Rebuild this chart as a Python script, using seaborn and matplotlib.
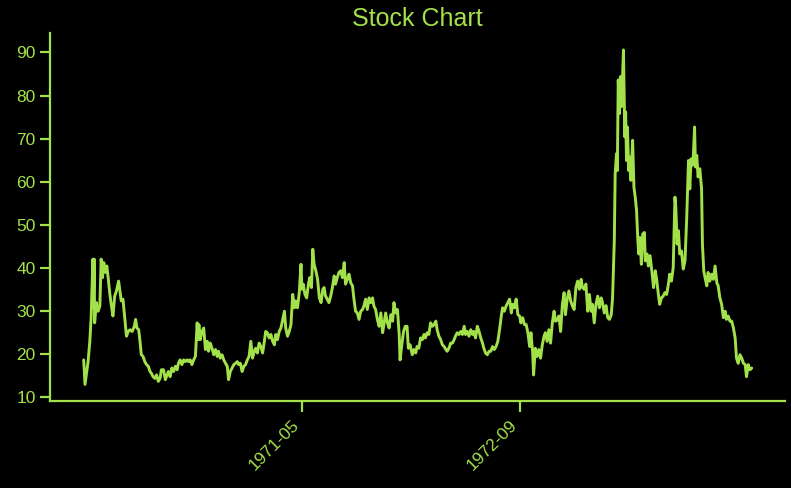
import pandas as pd
import seaborn as sns
import matplotlib.pyplot as plt
import matplotlib.dates as mdates

# days since 1970-01-01 and price
days = [0, 3, 6, 10, 14, 17, 21, 22, 24, 25, 29, 33, 37, 40, 43, 46, 50, 53, 56, 60,
        63, 67, 71, 75, 80, 83, 86, 90, 94, 98, 102, 106, 111, 116, 119, 122, 126, 129, 132, 136,
        140, 144, 148, 152, 155, 159, 163, 167, 171, 175, 178, 183, 187, 191, 194, 198, 202, 206, 210, 214,
        217, 221, 225, 229, 233, 237, 240, 244, 248, 252, 256, 260, 262, 264, 267, 271, 275, 279, 283, 286,
        290, 294, 298, 302, 306, 309, 313, 317, 321, 325, 329, 332, 336, 340, 344, 348, 352, 355, 359, 363,
        367, 371, 375, 379, 383, 387, 391, 394, 398, 402, 406, 410, 414, 417, 421, 425, 429, 433, 437, 440,
        444, 448, 452, 456, 460, 463, 467, 471, 475, 479, 483, 486, 490, 494, 498, 500, 503, 507, 511, 515,
        518, 522, 525, 528, 532, 536, 540, 544, 548, 551, 554, 558, 562, 566, 570, 574, 577, 581, 585, 589,
        593, 597, 600, 604, 608, 612, 616, 619, 623, 627, 631, 635, 639, 642, 646, 650, 654, 658, 662, 665,
        669, 673, 677, 681, 685, 688, 692, 696, 700, 704, 708, 711, 715, 719, 723, 725, 729, 733, 737, 741,
        744, 748, 753, 757, 761, 764, 768, 772, 776, 780, 783, 787, 791, 795, 799, 803, 807, 810, 814, 818,
        822, 826, 830, 833, 837, 841, 845, 849, 852, 856, 860, 864, 868, 872, 875, 879, 883, 887, 891, 894,
        898, 902, 906, 910, 914, 917, 921, 925, 929, 933, 937, 941, 945, 949, 953, 957, 960, 964, 968, 972,
        976, 980, 983, 987, 991, 995, 999, 1002, 1006, 1010, 1014, 1018, 1022, 1025, 1029, 1031, 1035, 1039, 1043, 1047,
        1051, 1055, 1058, 1062, 1066, 1070, 1074, 1078, 1081, 1085, 1089, 1093, 1097, 1101, 1104, 1108, 1112, 1116, 1120, 1124,
        1128, 1132, 1136, 1140, 1143, 1147, 1151, 1155, 1159, 1163, 1166, 1170, 1174, 1178, 1182, 1186, 1189, 1193, 1197, 1201,
        1205, 1209, 1212, 1216, 1218, 1221, 1223, 1225, 1228, 1230, 1232, 1235, 1237, 1240, 1242, 1244, 1246, 1249, 1251, 1254,
        1258, 1261, 1264, 1267, 1270, 1272, 1275, 1278, 1281, 1285, 1287, 1291, 1294, 1298, 1302, 1306, 1310, 1313, 1317, 1320,
        1324, 1328, 1332, 1336, 1340, 1343, 1347, 1351, 1355, 1357, 1360, 1363, 1366, 1370, 1374, 1378, 1382, 1386, 1389, 1392,
        1395, 1397, 1400, 1402, 1405, 1408, 1412, 1416, 1418, 1421, 1424, 1428, 1431, 1435, 1439, 1443, 1447, 1451, 1454, 1458,
        1462, 1466, 1470, 1473, 1477, 1481, 1485, 1489, 1493, 1496, 1500, 1504, 1508, 1512, 1516, 1519, 1523, 1527, 1531]

price = [18.6, 12.9, 15.1, 18.2, 22.9, 28.4, 42.0, 30.7, 42.0, 27.2, 31.9, 29.9, 31.1, 42.0, 37.7, 41.2, 38.9, 40.4, 37.7, 33.8,
         31.5, 28.8, 33.4, 34.6, 36.9, 34.6, 32.3, 32.7, 28.4, 24.1, 25.2, 25.6, 25.2, 26.4, 28.0, 26.0, 25.6, 22.9, 19.8, 19.4,
         18.2, 17.5, 17.1, 15.9, 15.5, 14.7, 14.3, 15.1, 13.6, 14.3, 16.3, 16.3, 14.0, 15.1, 15.9, 14.7, 16.7, 15.9, 17.1, 16.3,
         17.8, 18.6, 17.5, 18.6, 18.2, 18.6, 18.2, 18.6, 17.5, 18.6, 19.4, 27.2, 23.3, 26.8, 23.3, 25.2, 26.0, 21.0, 22.9, 20.6,
         22.5, 21.3, 19.8, 21.0, 19.4, 20.6, 19.0, 19.8, 18.6, 17.8, 17.1, 14.0, 15.9, 16.7, 17.5, 17.8, 18.2, 17.5, 17.8, 15.9,
         17.1, 17.5, 18.6, 19.4, 22.9, 19.0, 20.6, 21.3, 20.2, 22.5, 21.7, 20.2, 22.9, 25.2, 24.9, 23.7, 24.5, 22.9, 22.1, 24.5,
         23.3, 25.2, 26.0, 28.0, 29.9, 26.0, 24.1, 25.2, 26.8, 33.8, 30.7, 32.3, 30.7, 34.2, 40.8, 35.0, 36.2, 33.8, 33.0, 36.2,
         37.7, 35.4, 44.3, 40.8, 39.3, 37.3, 33.0, 31.9, 35.0, 35.4, 33.5, 32.7, 31.9, 33.4, 35.4, 38.1, 36.2, 37.7, 38.9, 39.3,
         37.7, 41.2, 36.2, 37.3, 38.5, 36.5, 35.8, 33.0, 29.9, 29.5, 28.0, 29.9, 30.3, 31.1, 32.7, 30.3, 33.0, 31.9, 33.0, 31.1,
         30.3, 28.0, 26.4, 29.5, 24.9, 26.8, 29.5, 27.2, 26.0, 29.1, 27.6, 31.9, 29.5, 30.3, 24.5, 18.6, 22.1, 25.2, 26.4, 26.4,
         21.3, 22.1, 19.8, 21.0, 20.2, 21.7, 21.3, 23.7, 23.3, 24.5, 23.7, 24.9, 24.5, 27.2, 26.4, 26.8, 27.6, 25.6, 24.1, 23.3,
         22.1, 21.7, 21.0, 20.6, 21.3, 22.5, 22.5, 23.3, 24.1, 24.9, 24.5, 25.2, 24.5, 26.4, 24.5, 25.2, 24.1, 25.6, 24.5, 25.2,
         23.7, 26.4, 25.2, 23.7, 22.5, 21.3, 20.2, 19.8, 20.6, 20.6, 21.7, 21.0, 21.7, 22.9, 25.6, 28.8, 30.7, 29.9, 31.1, 31.9,
         32.7, 29.5, 31.5, 30.7, 32.7, 29.1, 28.8, 27.2, 28.4, 26.8, 26.8, 24.9, 21.7, 24.9, 20.2, 15.1, 21.3, 19.4, 21.0, 19.0,
         22.1, 24.1, 24.9, 22.9, 25.6, 22.5, 27.2, 29.9, 27.6, 27.8, 28.8, 25.2, 31.5, 34.2, 29.1, 32.7, 34.6, 32.3, 31.1, 30.3,
         35.4, 36.9, 35.0, 37.3, 35.4, 35.0, 36.2, 29.9, 33.8, 29.9, 31.5, 27.2, 31.5, 33.4, 30.7, 33.0, 31.9, 29.5, 31.2, 28.4,
         28.0, 29.1, 33.0, 46.3, 61.8, 66.5, 62.6, 83.6, 75.8, 84.4, 77.4, 84.4, 90.6, 70.4, 76.2, 64.9, 72.7, 62.6, 65.7, 60.3,
         69.6, 58.7, 56.4, 53.3, 46.3, 43.2, 47.0, 40.8, 47.8, 48.2, 41.6, 43.2, 40.4, 42.8, 39.3, 35.4, 39.3, 37.3, 33.8, 31.5,
         33.0, 33.4, 34.2, 33.8, 36.2, 38.5, 36.9, 40.0, 56.4, 54.0, 45.5, 48.6, 43.2, 43.9, 39.7, 41.6, 51.7, 64.9, 58.3, 65.3,
         63.8, 65.7, 72.7, 63.4, 66.1, 61.1, 63.0, 58.3, 45.5, 39.3, 37.7, 35.8, 38.9, 36.9, 38.5, 37.3, 40.4, 36.5, 35.8, 33.0,
         31.5, 28.4, 29.9, 28.0, 28.8, 27.6, 27.6, 26.0, 23.7, 19.0, 17.8, 19.8, 19.0, 17.8, 17.5, 14.7, 17.5, 16.3, 16.7]

tick_dates = ['1971-05-16', '1972-09-27']
y_ticks = [10, 20, 30, 40, 50, 60, 70, 80, 90]

df = pd.DataFrame({'Date': pd.to_datetime(days, unit='D'), 'Price': price})

green = '#a3e14a'
sns.set_theme(style='ticks', rc={
    'figure.facecolor': 'black', 'axes.facecolor': 'black',
    'axes.edgecolor': green, 'axes.linewidth': 1.6,
    'xtick.color': green, 'ytick.color': green,
    'text.color': green, 'axes.labelcolor': green,
    'xtick.major.size': 8, 'ytick.major.size': 7,
    'xtick.major.width': 1.6, 'ytick.major.width': 1.6,
})
plt.rcParams['font.family'] = ['Liberation Sans', 'DejaVu Sans']

fig = plt.figure(figsize=(7.91, 4.88), dpi=100)
ax = fig.add_axes([0.0636, 0.178, 0.929, 0.754])

sns.lineplot(data=df, x='Date', y='Price', color=green, linewidth=2.1, ax=ax)

sns.despine(ax=ax)
ax.set_title('Stock Chart', fontsize=18, color=green, pad=5)
ax.set_xlabel('')
ax.set_ylabel('')
ax.set_xticks(pd.to_datetime(tick_dates))
ax.xaxis.set_major_formatter(mdates.DateFormatter('%Y-%m'))
ax.set_yticks(y_ticks)
ax.tick_params(axis='both', labelsize=12.5)
plt.setp(ax.get_xticklabels(), rotation=45, ha='right')

fig.savefig('out.png', dpi=100, facecolor='black')
